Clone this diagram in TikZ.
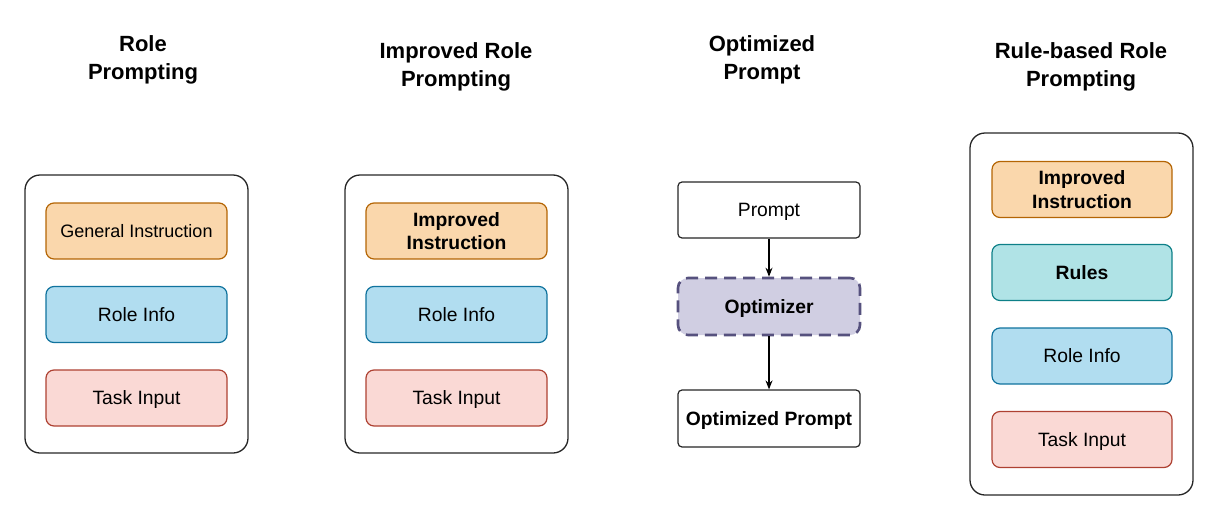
\documentclass[tikz,border=0pt]{standalone}
\usepackage{fontspec}
\setmainfont{Liberation Sans}
\usetikzlibrary{arrows.meta}
\definecolor{ofill}{HTML}{FAD7AC}\definecolor{ostroke}{HTML}{B46504}
\definecolor{bfill}{HTML}{B1DDF0}\definecolor{bstroke}{HTML}{10739E}
\definecolor{rfill}{HTML}{FAD9D5}\definecolor{rstroke}{HTML}{AE4132}
\definecolor{tfill}{HTML}{B0E3E6}\definecolor{tstroke}{HTML}{0E8088}
\definecolor{pfill}{HTML}{D0CEE2}\definecolor{pstroke}{HTML}{56517E}
\begin{document}
\begin{tikzpicture}[x=1pt,y=-1pt,
  outerbox/.style={draw=black!85,line width=1.3pt,rounded corners=15pt},
  inner/.style={line width=1.2pt,rounded corners=8pt,minimum width=181pt,minimum height=56pt,inner sep=0pt,align=center,font=\fontsize{19.3}{23}\selectfont},
  nodesc/.style={text depth=0pt},
  orangebox/.style={inner,draw=ostroke,fill=ofill},
  bluebox/.style={inner,draw=bstroke,fill=bfill},
  redbox/.style={inner,draw=rstroke,fill=rfill,nodesc},
  tealbox/.style={inner,draw=tstroke,fill=tfill},
  plainbox/.style={inner,draw=black!85,fill=white,rounded corners=4pt,nodesc},
  title/.style={align=center,font=\bfseries\fontsize{22}{28}\selectfont,inner sep=0pt},
  conn/.style={-{Stealth[length=9pt,width=7pt]},line width=1.2pt,black}]
\useasboundingbox (0,0) rectangle (1228,522);
% titles
\node[title] (t1) at (143,60) {Role\\Prompting};
\node[title] (t2) at (456,67) {Improved Role\\Prompting};
\node[title] (t3) at (762,60) {Optimized\\Prompt};
\node[title] (t4) at (1081,67) {Rule-based Role\\Prompting};
% panel 1
\draw[outerbox] (25,175) rectangle (248,453);
\node[orangebox,font=\fontsize{18}{22}\selectfont] (a1) at (136.5,231) {General Instruction};
\node[bluebox] (a2) at (136.5,314.5) {Role Info};
\node[redbox] (a3) at (136.5,398) {Task Input};
% panel 2
\draw[outerbox] (345,175) rectangle (568,453);
\node[orangebox,font=\bfseries\fontsize{19.3}{23.5}\selectfont] (b1) at (456.5,231) {Improved\\Instruction};
\node[bluebox] (b2) at (456.5,314.5) {Role Info};
\node[redbox] (b3) at (456.5,398) {Task Input};
% panel 3
\node[plainbox,minimum width=182pt] (p1) at (769,210) {Prompt};
\node[inner,nodesc,minimum width=182pt,minimum height=57pt,draw=pstroke,fill=pfill,line width=2.6pt,dash pattern=on 12pt off 7pt,rounded corners=10pt,font=\bfseries\fontsize{19.3}{23}\selectfont] (p2) at (769,306.5) {Optimizer};
\node[plainbox,minimum width=182pt,minimum height=57pt,font=\bfseries\fontsize{19.3}{23}\selectfont] (p3) at (769,418.5) {Optimized Prompt};
\draw[conn] (p1.south) -- (p2.north);
\draw[conn] (p2.south) -- (p3.north);
% panel 4
\draw[outerbox] (970,133) rectangle (1193,495);
\node[orangebox,minimum width=180pt,font=\bfseries\fontsize{19.3}{23.5}\selectfont] (c1) at (1082,189.5) {Improved\\Instruction};
\node[tealbox,minimum width=180pt,font=\bfseries\fontsize{19.3}{23}\selectfont] (c2) at (1082,272.5) {Rules};
\node[bluebox,minimum width=180pt] (c3) at (1082,356) {Role Info};
\node[redbox,minimum width=180pt] (c4) at (1082,439.5) {Task Input};
\end{tikzpicture}
\end{document}
